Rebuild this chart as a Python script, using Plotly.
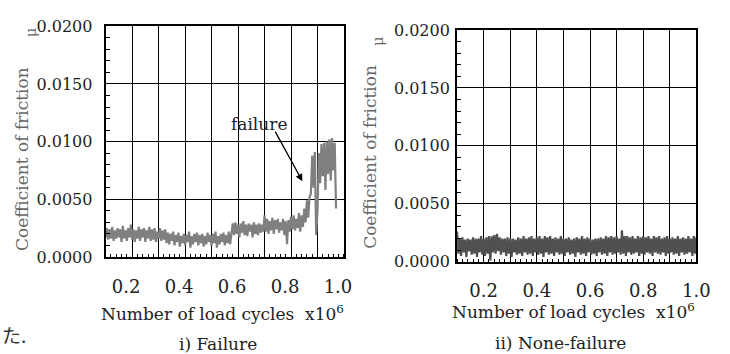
import plotly.graph_objects as go

# ---------------- data ----------------
cycles = [
    0.100, 0.105, 0.110, 0.115, 0.120, 0.125, 0.130, 0.135, 0.140, 0.145,
    0.150, 0.155, 0.160, 0.165, 0.170, 0.175, 0.180, 0.185, 0.190, 0.195,
    0.200, 0.205, 0.210, 0.215, 0.220, 0.225, 0.230, 0.235, 0.240, 0.245,
    0.250, 0.255, 0.260, 0.265, 0.270, 0.275, 0.280, 0.285, 0.290, 0.295,
    0.300, 0.305, 0.310, 0.315, 0.320, 0.325, 0.330, 0.335, 0.340, 0.345,
    0.350, 0.355, 0.360, 0.365, 0.370, 0.375, 0.380, 0.385, 0.390, 0.395,
    0.400, 0.405, 0.410, 0.415, 0.420, 0.425, 0.430, 0.435, 0.440, 0.445,
    0.450, 0.455, 0.460, 0.465, 0.470, 0.475, 0.480, 0.485, 0.490, 0.495,
    0.500, 0.505, 0.510, 0.515, 0.520, 0.525, 0.530, 0.535, 0.540, 0.545,
    0.550, 0.555, 0.560, 0.565, 0.570, 0.575, 0.580, 0.585, 0.590, 0.595,
    0.600, 0.605, 0.610, 0.615, 0.620, 0.625, 0.630, 0.635, 0.640, 0.645,
    0.650, 0.655, 0.660, 0.665, 0.670, 0.675, 0.680, 0.685, 0.690, 0.695,
    0.700, 0.705, 0.710, 0.715, 0.720, 0.725, 0.730, 0.735, 0.740, 0.745,
    0.750, 0.755, 0.760, 0.765, 0.770, 0.775, 0.780, 0.785, 0.790, 0.795,
    0.800, 0.805, 0.810, 0.815, 0.820, 0.825, 0.830, 0.835, 0.840, 0.845,
    0.850, 0.855, 0.860, 0.865, 0.870, 0.875, 0.880, 0.885, 0.890, 0.895,
    0.900, 0.905, 0.910, 0.915, 0.920, 0.925, 0.930, 0.935, 0.940, 0.945,
    0.950, 0.955, 0.960, 0.965, 0.970, 0.975, 0.980, 0.985, 0.990, 0.995,
    1.000,
]

# i) Failure: coefficient of friction
mu_fail = [
    # 0.100 - 0.325
    0.0017, 0.0025, 0.0015, 0.0024, 0.0016, 0.0026, 0.0014, 0.0023, 0.0016, 0.0025,
    0.0017, 0.0024, 0.0013, 0.0027, 0.0016, 0.0023, 0.0014, 0.0025, 0.0017, 0.0028,
    0.0015, 0.0024, 0.0013, 0.0023, 0.0016, 0.0026, 0.0014, 0.0024, 0.0017, 0.0025,
    0.0013, 0.0023, 0.0016, 0.0026, 0.0014, 0.0024, 0.0015, 0.0025, 0.0013, 0.0022,
    0.0016, 0.0025, 0.0014, 0.0023, 0.0015, 0.0024,
    # 0.330 - 0.575
    0.0012, 0.0021, 0.0011, 0.0020, 0.0014, 0.0022, 0.0010, 0.0019, 0.0013, 0.0021,
    0.0009, 0.0018, 0.0012, 0.0020, 0.0010, 0.0019, 0.0013, 0.0022, 0.0008, 0.0018,
    0.0011, 0.0020, 0.0013, 0.0021, 0.0010, 0.0019, 0.0012, 0.0020, 0.0009, 0.0018,
    0.0011, 0.0021, 0.0013, 0.0019, 0.0010, 0.0020, 0.0012, 0.0022, 0.0008, 0.0018,
    0.0011, 0.0020, 0.0013, 0.0021, 0.0010, 0.0019, 0.0012, 0.0022, 0.0011, 0.0020,
    # 0.580 - 0.695
    0.0029, 0.0019, 0.0030, 0.0020, 0.0028, 0.0017, 0.0029, 0.0021, 0.0031, 0.0019,
    0.0028, 0.0018, 0.0029, 0.0022, 0.0028, 0.0017, 0.0030, 0.0020, 0.0028, 0.0019,
    0.0029, 0.0021, 0.0028, 0.0022,
    # 0.700 - 0.845
    0.0036, 0.0022, 0.0033, 0.0020, 0.0031, 0.0023, 0.0034, 0.0020, 0.0032, 0.0024,
    0.0033, 0.0021, 0.0030, 0.0023, 0.0033, 0.0019, 0.0031, 0.0011, 0.0032, 0.0022,
    0.0035, 0.0024, 0.0036, 0.0023, 0.0033, 0.0025, 0.0038, 0.0022, 0.0036, 0.0026,
    # 0.850 - 0.870
    0.0042, 0.0030, 0.0049, 0.0034, 0.0052,
    # 0.875 - 0.970
    0.0055, 0.0088, 0.0060, 0.0091, 0.0019, 0.0040, 0.0090, 0.0064, 0.0098, 0.0070,
    0.0099, 0.0058, 0.0100, 0.0072, 0.0102, 0.0066, 0.0103, 0.0075, 0.0099, 0.0042,
]

# ii) None-failure: coefficient of friction
mu_ok = [
    0.0026, 0.0007, 0.0020, 0.0005, 0.0021, 0.0008, 0.0019, 0.0004, 0.0020, 0.0009,
    0.0019, 0.0006, 0.0021, 0.0007, 0.0020, 0.0004, 0.0020, 0.0008, 0.0022, 0.0006,
    0.0020, 0.0005, 0.0021, 0.0007, 0.0022, 0.0001, 0.0022, 0.0008, 0.0023, 0.0007,
    0.0024, 0.0009, 0.0021, 0.0006, 0.0020, 0.0008, 0.0020, 0.0005, 0.0021, 0.0007,
    0.0020, 0.0004, 0.0020, 0.0008, 0.0019, 0.0006, 0.0021, 0.0007, 0.0020, 0.0005,
    0.0022, 0.0008, 0.0020, 0.0006, 0.0021, 0.0007, 0.0022, 0.0005, 0.0020, 0.0008,
    0.0021, 0.0006, 0.0022, 0.0007, 0.0020, 0.0004, 0.0022, 0.0008, 0.0021, 0.0006,
    0.0022, 0.0007, 0.0020, 0.0005, 0.0021, 0.0008, 0.0020, 0.0006, 0.0022, 0.0007,
    0.0020, 0.0005, 0.0020, 0.0008, 0.0021, 0.0006, 0.0019, 0.0007, 0.0020, 0.0004,
    0.0021, 0.0008, 0.0020, 0.0006, 0.0022, 0.0007, 0.0020, 0.0005, 0.0021, 0.0008,
    0.0020, 0.0006, 0.0019, 0.0007, 0.0020, 0.0005, 0.0020, 0.0008, 0.0021, 0.0006,
    0.0020, 0.0007, 0.0022, 0.0005, 0.0021, 0.0008, 0.0022, 0.0006, 0.0021, 0.0007,
    0.0022, 0.0008, 0.0020, 0.0006, 0.0027, 0.0007, 0.0022, 0.0005, 0.0022, 0.0008,
    0.0021, 0.0006, 0.0022, 0.0007, 0.0020, 0.0008, 0.0022, 0.0005, 0.0021, 0.0007,
    0.0022, 0.0006, 0.0021, 0.0008, 0.0022, 0.0007, 0.0020, 0.0005, 0.0022, 0.0008,
    0.0021, 0.0007, 0.0022, 0.0006, 0.0020, 0.0008, 0.0021, 0.0005, 0.0022, 0.0007,
    0.0020, 0.0008, 0.0021, 0.0006, 0.0020, 0.0007, 0.0022, 0.0005, 0.0020, 0.0008,
    0.0021, 0.0006, 0.0020, 0.0007, 0.0022, 0.0008, 0.0020, 0.0005, 0.0022, 0.0007,
    0.0021,
]

cycles_fail = cycles[:len(mu_fail)]
cycles_ok = cycles[:len(mu_ok)]

x_tick_vals = [0.1, 0.2, 0.3, 0.4, 0.5, 0.6, 0.7, 0.8, 0.9, 1.0]
x_tick_text = ["", "0.2", "", "0.4", "", "0.6", "", "0.8", "", "1.0"]
y_tick_vals = [0.0, 0.005, 0.010, 0.015, 0.020]
y_tick_text = ["0.0000", "0.0050", "0.0100", "0.0150", "0.0200"]

x_title = "Number of load cycles\u00a0\u00a0x10<sup>6</sup>"
y_title = "Coefficient of friction"
sub_titles = ["i) Failure", "ii) None-failure"]

# ---------------- figure ----------------
W, H = 730, 354
SERIF = "DejaVu Serif"

fig = go.Figure()
fig.add_trace(go.Scatter(x=cycles_fail, y=mu_fail, mode="lines",
                         line=dict(color="#808080", width=2.2),
                         xaxis="x", yaxis="y", showlegend=False))
fig.add_trace(go.Scatter(x=cycles_ok, y=mu_ok, mode="lines",
                         line=dict(color="#505050", width=2.2),
                         xaxis="x2", yaxis="y2", showlegend=False))


def xax(domain, anchor, shift):
    return dict(domain=domain, anchor=anchor, range=[0.1, 1.0],
                tickmode="array", tickvals=x_tick_vals, ticktext=x_tick_text,
                ticks="outside", ticklen=12, tickcolor="rgba(0,0,0,0)",
                showgrid=True, gridcolor="black", gridwidth=1,
                showline=True, mirror=True, linecolor="black", linewidth=2,
                zeroline=False, ticklabelshift=shift,
                tickfont=dict(family=SERIF, size=18, color="#222"),
                minor=dict(tickmode="linear", tick0=0, dtick=0.02, ticks="inside",
                           ticklen=3, tickcolor="black", tickwidth=1, showgrid=False))


def yax(domain, anchor, standoff):
    return dict(domain=domain, anchor=anchor, range=[0, 0.02],
                tickmode="array", tickvals=y_tick_vals, ticktext=y_tick_text,
                ticks="inside", ticklen=4, tickcolor="black",
                showgrid=True, gridcolor="black", gridwidth=1,
                showline=True, mirror=True, linecolor="black", linewidth=2,
                zeroline=False, ticklabelstandoff=standoff,
                tickfont=dict(family=SERIF, size=16, color="#222"),
                minor=dict(tickmode="linear", tick0=0, dtick=0.001, ticks="inside",
                           ticklen=4, tickcolor="black", tickwidth=1, showgrid=False))


fig.update_layout(
    width=W, height=H, margin=dict(l=0, r=0, t=0, b=0),
    paper_bgcolor="white", plot_bgcolor="white",
    font=dict(family=SERIF),
    xaxis=xax([107.7 / W, 350.7 / W], "y", -6),
    yaxis=yax([1 - 262 / H, 1 - 18.3 / H], "x", 8),
    xaxis2=xax([466 / W, 710 / W], "y2", 0),
    yaxis2=yax([1 - 267 / H, 1 - 22.3 / H], "x2", 2),
)

ann = []
# x titles
ann.append(dict(text=x_title, x=227 / W, y=1 - 321 / H, xref="paper", yref="paper",
                xanchor="center", yanchor="middle", showarrow=False,
                font=dict(family=SERIF, size=17, color="#222")))
ann.append(dict(text=x_title, x=585 / W, y=1 - 319 / H, xref="paper", yref="paper",
                xanchor="center", yanchor="middle", showarrow=False,
                font=dict(family=SERIF, size=17, color="#222")))
# y titles
for cx, cy, mx, my in [(22.5, 158.5, 31, 25), (377, 156.5, 386, 34)]:
    ann.append(dict(text=y_title, x=cx / W, y=1 - cy / H, xref="paper", yref="paper",
                    xanchor="center", yanchor="middle", showarrow=False, textangle=-90,
                    font=dict(family=SERIF, size=17, color="#666")))
    ann.append(dict(text="μ", x=mx / W, y=1 - my / H, xref="paper", yref="paper",
                    xanchor="center", yanchor="middle", showarrow=False, textangle=-90,
                    font=dict(family=SERIF, size=14, color="#666")))
# sub titles
ann.append(dict(text=sub_titles[0], x=222.5 / W, y=1 - 354 / H, xref="paper", yref="paper",
                xanchor="center", yanchor="middle", showarrow=False,
                font=dict(family=SERIF, size=17, color="#222")))
ann.append(dict(text=sub_titles[1], x=571.7 / W, y=1 - 353 / H, xref="paper", yref="paper",
                xanchor="center", yanchor="middle", showarrow=False,
                font=dict(family=SERIF, size=17, color="#222")))
# failure label + arrow
ann.append(dict(text="failure", x=0.679, y=0.01154, xref="x", yref="y",
                xanchor="center", yanchor="middle", showarrow=False,
                font=dict(family=SERIF, size=17, color="#222")))
ann.append(dict(text="", x=0.843, y=0.00657, xref="x", yref="y",
                showarrow=True, ax=-28, ay=-51, arrowhead=2, arrowsize=1.1,
                arrowwidth=1.3, arrowcolor="black"))
# fragment of surrounding text
ann.append(dict(text="た.", x=0, y=1 - 344 / H, xref="paper", yref="paper",
                xanchor="left", yanchor="middle", showarrow=False,
                font=dict(family="Noto Sans CJK JP", size=19, color="#333")))

fig.update_layout(annotations=ann)
fig.write_html("out.html")
